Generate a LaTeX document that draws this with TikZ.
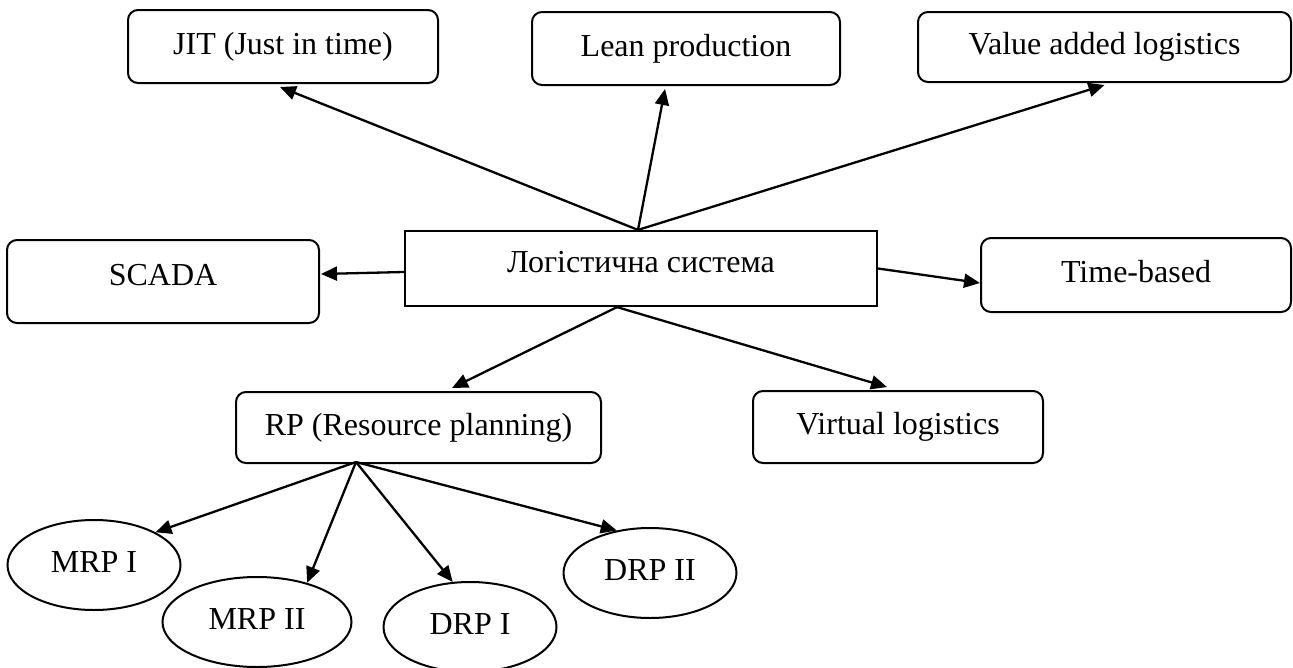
\documentclass[tikz,border=0pt]{standalone}
\usepackage{fontspec}
\setmainfont{Liberation Serif}
\usetikzlibrary{arrows.meta,shapes.geometric}
\begin{document}
\begin{tikzpicture}[x=1pt,y=-1pt,
  every node/.style={font=\fontsize{32}{38}\selectfont, inner sep=0pt,
    text height=22pt, text depth=7pt},
  rbox/.style={draw, line width=2pt, rounded corners=10pt},
  sbox/.style={draw, line width=2.2pt},
  oval/.style={draw, ellipse, line width=2pt},
  arr/.style={line width=2.3pt, -{Triangle[length=16pt,width=14pt]}}]
\useasboundingbox (0,0) rectangle (1293,667);

% centre box
\node[sbox, minimum width=472pt, minimum height=75pt, text depth=15pt] (sys) at (641,268.5) {Логістична система};

% upper row
\node[rbox, minimum width=310pt, minimum height=73pt] (jit) at (283,46.5) {JIT (Just in time)};
\node[rbox, minimum width=308pt, minimum height=73pt] (lean) at (686,48.5) {Lean production};
\node[rbox, minimum width=373pt, minimum height=70pt] (val) at (1104.5,47) {Value added logistics};

% side boxes
\node[rbox, minimum width=312pt, minimum height=83pt, text depth=15pt] (scada) at (163,281.5) {SCADA};
\node[rbox, minimum width=310pt, minimum height=74pt] (time) at (1136,275) {Time-based};

% lower row
\node[rbox, minimum width=365pt, minimum height=71pt] (rp) at (418.5,427.5) {RP (Resource planning)};
\node[rbox, minimum width=290pt, minimum height=72pt] (virt) at (898,427) {Virtual logistics};

% planning methods
\node[oval, minimum width=173pt, minimum height=90pt] (mrp1) at (94,565) {MRP I};
\node[oval, minimum width=189pt, minimum height=90pt] (mrp2) at (257,622) {MRP II};
\node[oval, minimum width=173pt, minimum height=90pt] (drp1) at (470,627) {DRP I};
\node[oval, minimum width=173pt, minimum height=90pt] (drp2) at (650,573) {DRP II};

% connectors from the logistics system
\draw[arr] ([xshift=-3pt]sys.north) -- ([xshift=-3pt,yshift=-3pt]jit.south);
\draw[arr] ([xshift=-3pt]sys.north) -- ([xshift=-21pt,yshift=-3pt]lean.south);
\draw[arr] ([xshift=-3pt]sys.north) -- ([yshift=-2pt]val.south);
\draw[arr] ([yshift=-3.5pt]sys.west) -- ([xshift=1pt,yshift=7.5pt]scada.east);
\draw[arr] (sys.east) -- ([yshift=-8pt]time.west);
\draw[arr] ([xshift=-24pt]sys.south) -- ([xshift=33.5pt,yshift=3pt]rp.north);
\draw[arr] ([xshift=-24pt]sys.south) -- ([xshift=-11pt,yshift=3pt]virt.north);

% connectors from resource planning
\coordinate (rpo) at ([xshift=-62.5pt,yshift=2pt]rp.south);
\draw[arr] (rpo) -- (mrp1.28);
\draw[arr] (rpo) -- (mrp2.38);
\draw[arr] (rpo) -- (drp1.111);
\draw[arr] (rpo) -- (drp2.128);
\end{tikzpicture}
\end{document}
